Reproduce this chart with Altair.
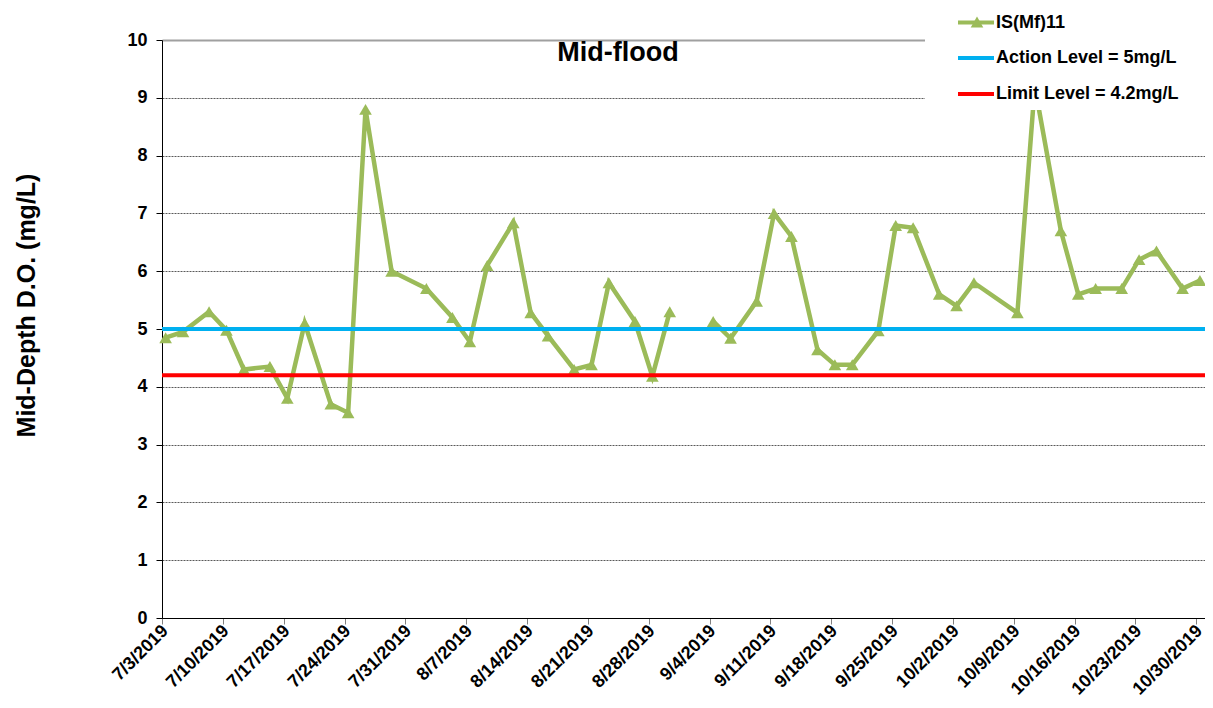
import altair as alt
import pandas as pd

# ---- data ----
sample_dates = [
    "2019-07-03", "2019-07-05", "2019-07-08", "2019-07-10", "2019-07-12",
    "2019-07-15", "2019-07-17", "2019-07-19", "2019-07-22", "2019-07-24",
    "2019-07-26", "2019-07-29", "2019-08-02", "2019-08-05", "2019-08-07",
    "2019-08-09", "2019-08-12", "2019-08-14", "2019-08-16", "2019-08-19",
    "2019-08-21", "2019-08-23", "2019-08-26", "2019-08-28", "2019-08-30",
    "2019-09-02", "2019-09-04", "2019-09-06", "2019-09-09", "2019-09-11",
    "2019-09-13", "2019-09-16", "2019-09-18", "2019-09-20", "2019-09-23",
    "2019-09-25", "2019-09-27", "2019-09-30", "2019-10-02", "2019-10-04",
    "2019-10-09", "2019-10-11", "2019-10-14", "2019-10-16", "2019-10-18",
    "2019-10-21", "2019-10-23", "2019-10-25", "2019-10-28", "2019-10-30",
]
do_values = [
    4.85, 4.95, 5.3, 4.98, 4.3,
    4.35, 3.8, 5.1, 3.7, 3.55,
    8.8, 6.0, 5.7, 5.2, 4.78,
    6.1, 6.84, 5.28, 4.88, 4.3,
    4.38, 5.8, 5.13, 4.18, 5.3,
    None, 5.13, 4.84, 5.48, 7.0,
    6.6, 4.64, 4.38, 4.38, 4.97,
    6.79, 6.75, 5.6, 5.4, 5.8,
    5.28, 9.2, 6.7, 5.6, 5.7,
    5.7, 6.2, 6.35, 5.7, 5.84,
]
action_level = 5.0
limit_level = 4.2
legend_labels = ["IS(Mf)11", "Action Level = 5mg/L", "Limit Level = 4.2mg/L"]
tick_dates = [
    (7, 3), (7, 10), (7, 17), (7, 24), (7, 31), (8, 7), (8, 14), (8, 21),
    (8, 28), (9, 4), (9, 11), (9, 18), (9, 25), (10, 2), (10, 9), (10, 16),
    (10, 23), (10, 30),
]
y_ticks = list(range(0, 11))
chart_title = "Mid-flood"
y_title = "Mid-Depth D.O. (mg/L)"

GREEN = "#9BBB59"
BLUE = "#00B0F0"
RED = "#FF0000"
FONT = "Liberation Sans"

df = pd.DataFrame({
    "date": [d + "T10:00:00" for d in sample_dates],
    "v": do_values,
})

W, H = 1043, 578

x_scale = alt.Scale(domain=[alt.DateTime(year=2019, month=7, date=3),
                            alt.DateTime(year=2019, month=10, date=31)])
y_scale = alt.Scale(domain=[0, 10], nice=False)

x_axis = alt.Axis(
    values=[alt.DateTime(year=2019, month=m, date=d) for m, d in tick_dates],
    format="%-m/%-d/%Y", labelAngle=-45, labelAlign="right", labelBaseline="middle",
    labelFontSize=18, labelFontWeight="bold", labelColor="black", labelFont=FONT,
    labelPadding=4, labelOffset=3, labelOverlap=False, labelBound=False, labelFlush=False,
    tickSize=6, tickColor="#808080", domainColor="black", domainWidth=1,
    grid=False, title=None,
)
y_axis = alt.Axis(
    values=y_ticks, format="d", labelFontSize=18, labelFontWeight="bold", labelColor="black",
    labelFont=FONT, labelPadding=9, tickSize=6, tickColor="black",
    domainColor="black", domainWidth=1,
    grid=True,
    gridColor={"condition": {"test": "datum.value == 10", "value": "#A0A0A0"}, "value": "#303030"},
    gridDash={"condition": {"test": "datum.value == 10", "value": []}, "value": [2, 1]},
    gridWidth={"condition": {"test": "datum.value == 10", "value": 2}, "value": 0.8},
    title=y_title, titleFont=FONT, titleFontSize=25, titleFontWeight="bold",
    titleColor="black", titleX=-136, titleY=265, titleBaseline="middle",
    titleAlign="center", titleAngle=-90,
)

base = alt.Chart(df)

line = base.mark_line(color=GREEN, strokeWidth=4.5,
                      invalid="break-paths-show-domains").encode(
    x=alt.X("date:T", scale=x_scale, axis=x_axis),
    y=alt.Y("v:Q", scale=y_scale, axis=y_axis),
)
pts = base.transform_filter("isValid(datum.v)").mark_point(
    shape="triangle-up", filled=True, size=160, color=GREEN, opacity=1
).encode(x=alt.X("date:T", scale=x_scale), y=alt.Y("v:Q", scale=y_scale))

levels = pd.DataFrame({"level": [action_level, limit_level], "name": legend_labels[1:]})
rules = alt.Chart(levels).mark_rule(strokeWidth=4).encode(
    y=alt.Y("level:Q", scale=y_scale),
    color=alt.Color("name:N", scale=alt.Scale(domain=legend_labels[1:], range=[BLUE, RED]),
                    legend=None),
)

title_mark = alt.Chart(pd.DataFrame({"t": [chart_title]})).mark_text(
    font=FONT, fontSize=27, fontWeight="bold", color="black", align="center",
    baseline="alphabetic",
).encode(text="t:N", x=alt.value(456), y=alt.value(21))

# legend box (white, covering the top-right corner of the plot)
legend_bg = alt.Chart(pd.DataFrame({"a": [0]})).mark_rect(fill="white").encode(
    x=alt.value(763), x2=alt.value(1060), y=alt.value(-40), y2=alt.value(70)
)
legend_layers = [legend_bg]
leg_colors = [GREEN, BLUE, RED]
leg_y = [-17.5, 18, 54]
for lab, col, yy in zip(legend_labels, leg_colors, leg_y):
    d = pd.DataFrame({"t": [lab]})
    legend_layers.append(alt.Chart(d).mark_rule(color=col, strokeWidth=4).encode(
        x=alt.value(796), x2=alt.value(832), y=alt.value(yy)))
    legend_layers.append(alt.Chart(d).mark_text(
        font=FONT, fontSize=18, fontWeight="bold", color="black", align="left",
        baseline="middle").encode(text="t:N", x=alt.value(834), y=alt.value(yy)))
legend_layers.insert(2, alt.Chart(pd.DataFrame({"a": [0]})).mark_point(
    shape="triangle-up", filled=True, size=160, color=GREEN, opacity=1
).encode(x=alt.value(815), y=alt.value(-18)))

chart = alt.layer(line, pts, rules, title_mark, *legend_layers).properties(
    width=W, height=H,
    autosize=alt.AutoSizeParams(type="none"),
    padding={"left": 154, "top": 32, "right": 0, "bottom": 82},
).configure_view(stroke=None).configure(background="white")

chart.save("out.html", embed_options={"renderer": "svg", "actions": False})
